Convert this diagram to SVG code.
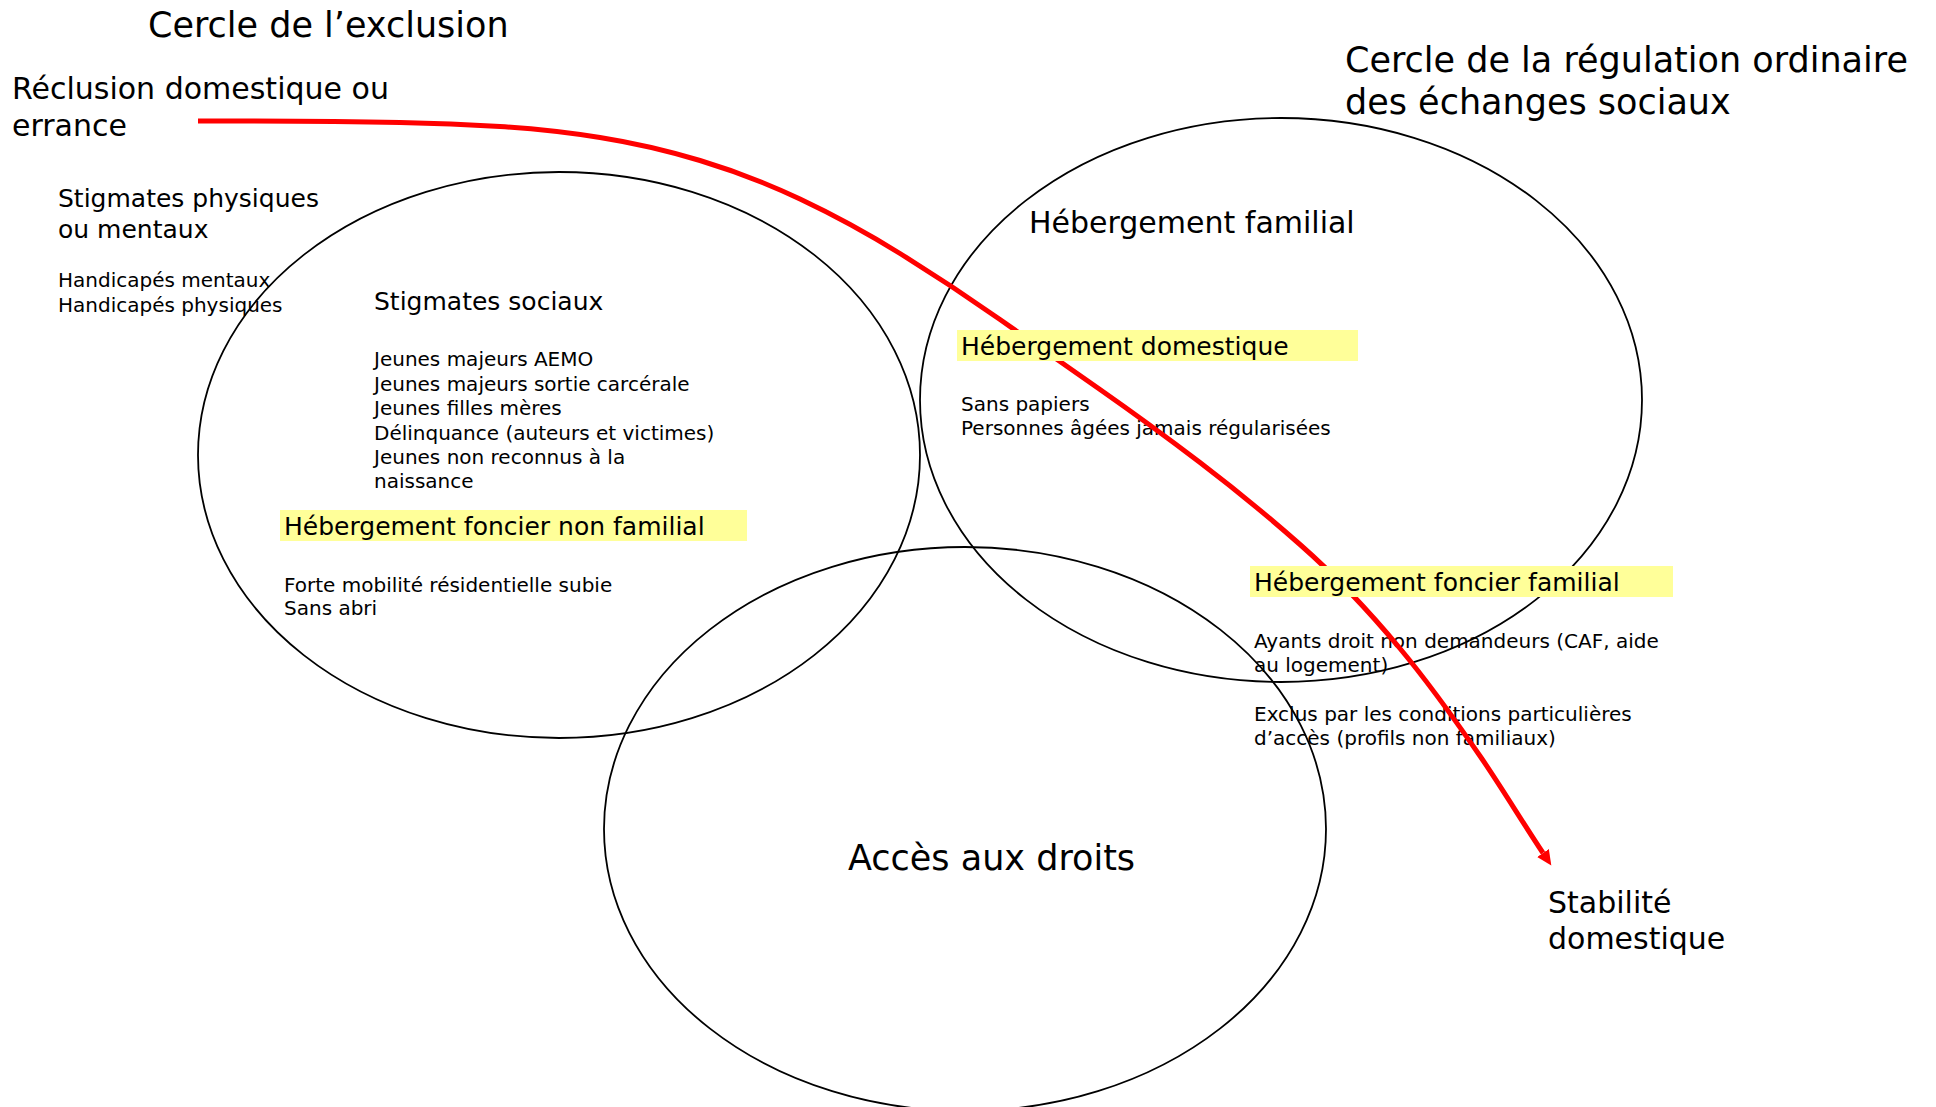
<svg xmlns="http://www.w3.org/2000/svg" width="1936" height="1107" viewBox="0 0 1936 1107">
<defs>
<style>
text{font-family:"DejaVu Sans",Verdana,sans-serif;fill:#000}
.t35{font-size:35px}
.t30{font-size:30px}
.t25{font-size:25px}
.t20{font-size:20px}
.circle{fill:none;stroke:#000;stroke-width:1.8}
.hl{fill:#FFFF99}
.flow{fill:none;stroke:#FF0000;stroke-width:5}
</style>
<marker id="arrow" markerUnits="userSpaceOnUse" markerWidth="16" markerHeight="16" refX="0" refY="7" orient="auto">
<path d="M0,0 L15,7 L0,14 Z" fill="#FF0000"/>
</marker>
</defs>
<rect width="1936" height="1107" fill="#fff"/>

<g id="title-exclusion">
<text class="t35" x="148" y="37">Cercle de l’exclusion</text>
</g>
<g id="title-regulation">
<text class="t35" x="1345" y="72">Cercle de la régulation ordinaire</text>
<text class="t35" x="1345" y="114">des échanges sociaux</text>
</g>
<g id="start-reclusion">
<text class="t30" x="12" y="99">Réclusion domestique ou</text>
<text class="t30" x="12" y="136">errance</text>
</g>
<g id="stigmates-physiques">
<text class="t25" x="58" y="207">Stigmates physiques</text>
<text class="t25" x="58" y="238">ou mentaux</text>
<text class="t20" x="58" y="287">Handicapés mentaux</text>
<text class="t20" x="58" y="312">Handicapés physiques</text>
</g>
<g id="stigmates-sociaux">
<text class="t25" x="374" y="310">Stigmates sociaux</text>
<text class="t20" x="374" y="366">Jeunes majeurs AEMO</text>
<text class="t20" x="374" y="391">Jeunes majeurs sortie carcérale</text>
<text class="t20" x="374" y="415">Jeunes filles mères</text>
<text class="t20" x="374" y="440">Délinquance (auteurs et victimes)</text>
<text class="t20" x="374" y="464">Jeunes non reconnus à la</text>
<text class="t20" x="374" y="488">naissance</text>
</g>
<g id="list-non-familial">
<text class="t20" x="284" y="592">Forte mobilité résidentielle subie</text>
<text class="t20" x="284" y="615">Sans abri</text>
</g>
<g id="hebergement-familial">
<text class="t30" x="1029" y="233">Hébergement familial</text>
</g>
<g id="list-domestique">
<text class="t20" x="961" y="411">Sans papiers</text>
<text class="t20" x="961" y="435">Personnes âgées jamais régularisées</text>
</g>
<g id="list-foncier-familial">
<text class="t20" x="1254" y="648">Ayants droit non demandeurs (CAF, aide</text>
<text class="t20" x="1254" y="672">au logement)</text>
<text class="t20" x="1254" y="721">Exclus par les conditions particulières</text>
<text class="t20" x="1254" y="745">d’accès (profils non familiaux)</text>
</g>
<g id="end-stabilite">
<text class="t30" x="1548" y="913">Stabilité</text>
<text class="t30" x="1548" y="949">domestique</text>
</g>

<g id="circle-exclusion">
<ellipse class="circle" cx="559" cy="455" rx="361" ry="283"/>
</g>
<g id="circle-regulation">
<ellipse class="circle" cx="1281" cy="400" rx="361" ry="282"/>
</g>
<g id="circle-acces">
<ellipse class="circle" cx="965" cy="829" rx="361" ry="282"/>
<text class="t35" x="848" y="870">Accès aux droits</text>
</g>

<g id="connectors">
<path class="flow" d="M198,121 C265.3,121 332.7,121.2 400,122.5 C433.3,123.2 466.7,124.5 500,126.5 C533.3,128.5 566.7,132.2 600,137.5 C633.3,142.8 666.7,150.5 700,160.5 C733.3,170.5 766.7,183.3 800,199 C833.3,214.7 866.7,232.8 900,253.5 C933.3,274.2 966.7,296.2 1000,319.5 C1033.3,342.8 1066.7,366.2 1100,389.5 C1133.3,412.8 1166.7,437.2 1200,462.5 C1233.3,487.8 1266.7,515.2 1300,544.5 C1333.3,573.8 1366.7,608.5 1400,648.5 C1426.7,680.5 1453.3,717.3 1480,756 C1501,786.5 1522,821.5 1543,853" marker-end="url(#arrow)"/>
</g>

<g id="hl-foncier-non-familial">
<rect class="hl" x="280" y="510" width="467" height="31"/>
<text class="t25" x="284" y="535">Hébergement foncier non familial</text>
</g>
<g id="hl-domestique">
<rect class="hl" x="957" y="330" width="401" height="31"/>
<text class="t25" x="961" y="355">Hébergement domestique</text>
</g>
<g id="hl-foncier-familial">
<rect class="hl" x="1250" y="566" width="423" height="31"/>
<text class="t25" x="1254" y="591">Hébergement foncier familial</text>
</g>
</svg>
